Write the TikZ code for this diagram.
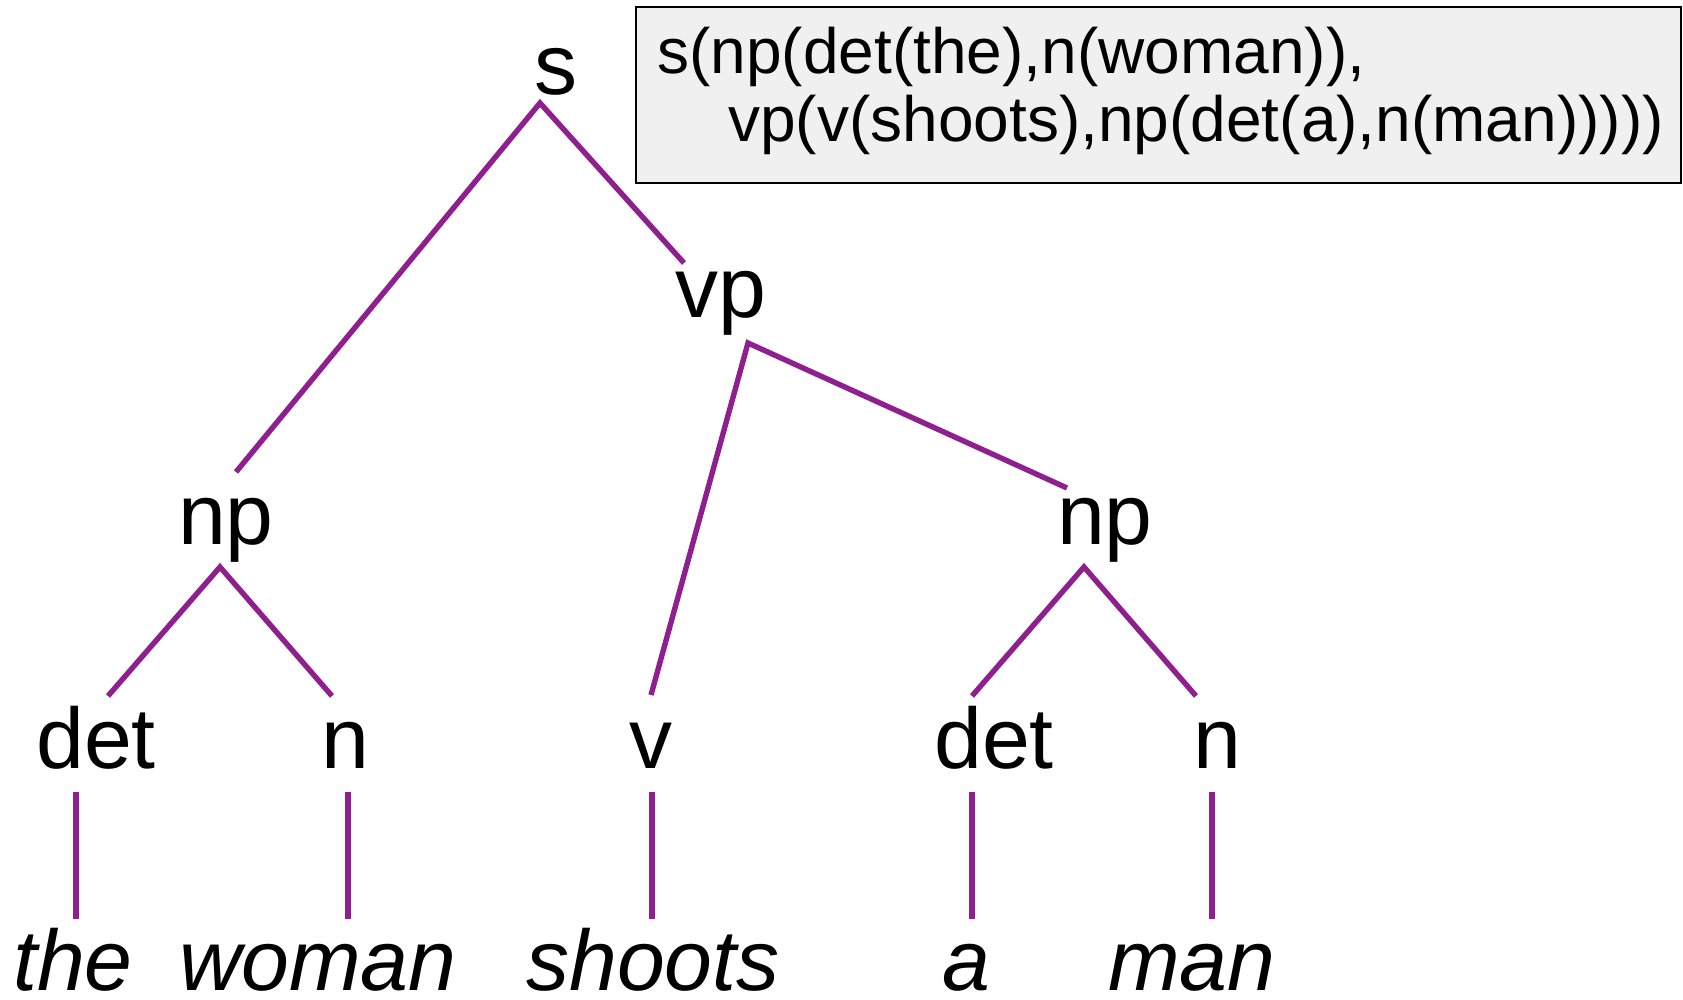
\documentclass[tikz,border=0pt]{standalone}
\usepackage{fontspec}
\setmainfont{Liberation Sans}
\definecolor{treepurple}{RGB}{143,31,143}
\definecolor{boxgray}{RGB}{240,240,240}
\begin{document}
\begin{tikzpicture}[x=0.5pt,y=-0.5pt,
  lab/.style={anchor=base,inner sep=0pt,font=\fontsize{43pt}{50pt}\selectfont},
  leaf/.style={lab,text depth=0pt,font=\fontsize{43pt}{50pt}\selectfont\itshape},
  boxtext/.style={anchor=base west,inner sep=0pt,font=\fontsize{32pt}{38pt}\selectfont},
  edge/.style={draw=treepurple,line width=2.7pt,line cap=butt}]
\useasboundingbox (0,0) rectangle (1683,1000);
% term box
\draw[fill=boxgray,draw=black,line width=1pt] (636,7) rectangle (1681,183);
\node[boxtext] (t1) at (657,74) {s(np(det(the),n(woman)),};
\node[boxtext] (t2) at (728,142) {vp(v(shoots),np(det(a),n(man)))))};
% labels
\node[lab] (s) at (556,95) {s};
\node[lab] (vp) at (721,318) {vp};
\node[lab] (np1) at (226,545) {np};
\node[lab] (np2) at (1105,545) {np};
\node[lab] (det1) at (96,768) {det};
\node[lab] (n1) at (345,768) {n};
\node[lab] (v) at (651,768) {v};
\node[lab] (det2) at (994,768) {det};
\node[lab] (n2) at (1217,768) {n};
\node[leaf] (w1) at (73,990) {the};
\node[leaf] (w2) at (318,990) {woman};
\node[leaf] (w3) at (653,990) {shoots};
\node[leaf] (w4) at (966,990) {a};
\node[leaf] (w5) at (1192,990) {man};
% connector ends
\coordinate (sB) at (540,103);
\coordinate (np1T) at (236,472);
\coordinate (vpT) at (684,263);
\coordinate (vpB) at (748,343);
\coordinate (vT) at (651,695);
\coordinate (np2T) at (1067,488);
\coordinate (np1B) at (220,567);
\coordinate (det1T) at (108,696);
\coordinate (n1T) at (332,696);
\coordinate (np2B) at (1084,567);
\coordinate (det2T) at (972,696);
\coordinate (n2T) at (1196,696);
\coordinate (det1B) at (76,792);
\coordinate (n1B) at (348,792);
\coordinate (vB) at (652,792);
\coordinate (det2B) at (972,792);
\coordinate (n2B) at (1212,792);
\coordinate (w1T) at (76,919);
\coordinate (w2T) at (348,919);
\coordinate (w3T) at (652,919);
\coordinate (w4T) at (972,919);
\coordinate (w5T) at (1212,919);
% connectors
\draw[edge] (np1T) -- (sB) -- (vpT);
\draw[edge] (vT) -- (vpB) -- (np2T);
\draw[edge] (det1T) -- (np1B) -- (n1T);
\draw[edge] (det2T) -- (np2B) -- (n2T);
\draw[edge] (det1B) -- (w1T);
\draw[edge] (n1B) -- (w2T);
\draw[edge] (vB) -- (w3T);
\draw[edge] (det2B) -- (w4T);
\draw[edge] (n2B) -- (w5T);
\end{tikzpicture}
\end{document}
